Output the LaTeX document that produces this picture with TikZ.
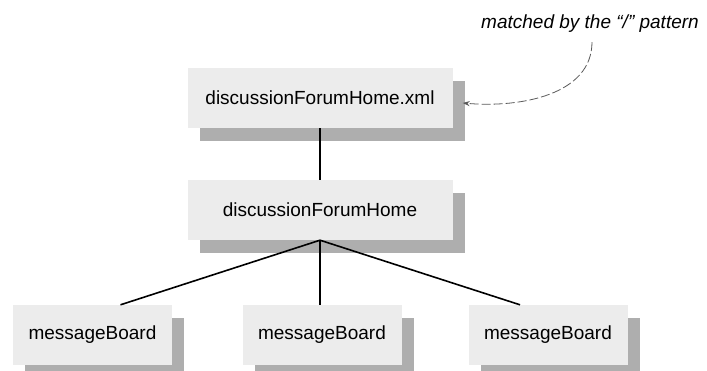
\documentclass[tikz,border=0pt]{standalone}
\usepackage{fontspec}
\setmainfont{Liberation Sans}
\usetikzlibrary{shadows,arrows.meta}
\definecolor{boxgray}{RGB}{236,236,236}
\definecolor{shadowgray}{RGB}{160,160,160}
\tikzset{
	docnode/.style = {align=center, inner sep=0pt, text centered, font=\fontsize{19}{22}\selectfont,
		fill=boxgray, minimum height=60pt,
		drop shadow={shadow xshift=12pt, shadow yshift=-13pt, fill=shadowgray, opacity=0.85}},
	rootnode/.style = {docnode, minimum width=265pt},
	boardnode/.style = {docnode, minimum width=159pt},
	link/.style = {black, line width=1.6pt},
	annot/.style = {font=\fontsize{19}{22}\selectfont\itshape, inner sep=0pt},
	pointer/.style = {gray!70!black, line width=0.8pt, dash pattern=on 9pt off 3pt, -{Stealth[length=7pt,width=5pt]}}
}

\begin{document}
\begin{tikzpicture}[x=1pt, y=-1pt]
		\useasboundingbox (0,0) rectangle (707,371);
		% document and root element
		\node [rootnode] (homexml) at (320,98) {discussionForumHome.xml};
		\node [rootnode] (home) at (320,210) {discussionForumHome};
		% children
		\node [boardnode] (board1) at (92.5,335) {messageBoard};
		\node [boardnode] (board2) at (322,335) {messageBoard};
		\node [boardnode] (board3) at (548,335) {messageBoard};
		\draw [link] (homexml.south) -- (home.north);
		\draw [link] (home.south) -- ([xshift=28pt]board1.north);
		\draw [link] (home.south) -- ([xshift=-2pt]board2.north);
		\draw [link] (home.south) -- ([xshift=-28pt]board3.north);
		% the note
		\node [annot] (note) at (590,24) {matched by the “/” pattern};
		\draw [pointer] ([xshift=2pt,yshift=-9pt]note.south)
			.. controls (592,95) and (520,108) .. ([xshift=10pt,yshift=-5pt]homexml.east);
\end{tikzpicture}
\end{document}
